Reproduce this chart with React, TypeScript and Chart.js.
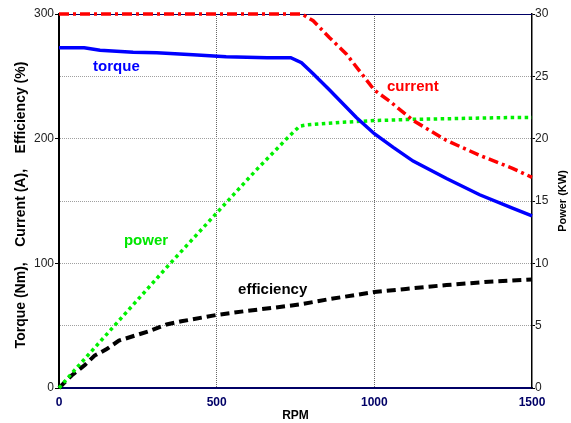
import React, { useEffect, useRef } from "react";
import { Chart, registerables } from "chart.js";

Chart.register(...registerables);

// ---- data ----
const torqueRpm = [0, 80, 130, 235, 310, 425, 530, 660, 735, 769, 806, 858, 943, 1000, 1060, 1123, 1229, 1334, 1440, 1500];
const torqueNm = [273, 273, 271, 269.3, 269, 267.4, 265.8, 265, 265, 261, 252, 239, 217, 204, 193, 182, 168, 155, 144, 138];

const currentRpm = [0, 770, 806, 858, 911, 1000, 1049, 1123, 1229, 1334, 1440, 1500];
const currentA = [300, 300, 294.6, 281, 268, 239, 230, 214.6, 198.6, 186.6, 176, 169];

const powerRpm = [0, 50, 353, 626, 726, 763, 785, 890, 1000, 1123, 1229, 1334, 1440, 1500];
const powerKW = [0, 1.45, 10, 17.5, 20.1, 21.0, 21.1, 21.3, 21.45, 21.55, 21.6, 21.65, 21.7, 21.7];

const effRpm = [0, 40, 82, 113, 150, 190, 282, 341, 388, 500, 600, 700, 763, 850, 1000, 1100, 1229, 1350, 1500];
const effPct = [0, 10, 18.5, 26, 31, 38, 45.3, 51, 53.5, 58.6, 62, 65, 67, 71, 77, 79.5, 82.6, 85, 87];

const xTicks = [0, 500, 1000, 1500];
const leftLabelTicks = [0, 100, 200, 300];
const rightTicks = [0, 5, 10, 15, 20, 25, 30];

const labelTexts = ["torque", "current", "power", "efficiency"];
const labelRpm = [108, 1040, 206, 568];
const labelValue = [257.8, 241.3, 117.8, 78.6];
const labelColors = ["#0000ff", "#ff0000", "#00e600", "#000000"];

const leftTitle = "Torque (Nm),    Current (A),    Efficiency (%)";
const rightTitle = "Power (KW)";

const FONT = '"Liberation Sans", Arial, Helvetica, sans-serif';

const toPoints = (xs: number[], ys: number[]) => xs.map((x, i) => ({ x, y: ys[i] }));

const decorPlugin = {
  id: "decor",
  beforeDatasetsDraw(chart: any) {
    const { ctx, chartArea } = chart;
    ctx.save();
    ctx.strokeStyle = "#000066";
    ctx.lineWidth = 1;
    ctx.beginPath();
    ctx.moveTo(chartArea.left, chartArea.top + 0.5);
    ctx.lineTo(chartArea.right, chartArea.top + 0.5);
    ctx.stroke();
    ctx.restore();
  },
  afterDatasetsDraw(chart: any) {
    const { ctx } = chart;
    const xs = chart.scales.x;
    const ys = chart.scales.y;
    ctx.save();
    ctx.font = `bold 15px ${FONT}`;
    ctx.textBaseline = "middle";
    ctx.textAlign = "left";
    labelTexts.forEach((t, i) => {
      ctx.fillStyle = labelColors[i];
      ctx.fillText(t, xs.getPixelForValue(labelRpm[i]), ys.getPixelForValue(labelValue[i]));
    });
    ctx.restore();
  },
  afterDraw(chart: any) {
    const { ctx, chartArea } = chart;
    const midY = (chartArea.top + chartArea.bottom) / 2;
    ctx.save();
    ctx.fillStyle = "#000";
    ctx.textAlign = "center";
    ctx.textBaseline = "middle";
    // left title
    ctx.save();
    ctx.font = `bold 14px ${FONT}`;
    ctx.translate(21, midY + 4);
    ctx.rotate(-Math.PI / 2);
    ctx.fillText(leftTitle, 0, 0);
    ctx.restore();
    // right title
    ctx.save();
    ctx.font = `bold 11px ${FONT}`;
    ctx.translate(chart.width - 8, midY);
    ctx.rotate(-Math.PI / 2);
    ctx.fillText(rightTitle, 0, 0);
    ctx.restore();
    ctx.restore();
  },
};

export default function App() {
  const ref = useRef<HTMLCanvasElement>(null);

  useEffect(() => {
    if (!ref.current) return;
    Chart.defaults.font.family = FONT;
    const transparent = "rgba(0,0,0,0)";
    const chart = new Chart(ref.current, {
      type: "line",
      data: {
        datasets: [
          {
            label: "current",
            data: toPoints(currentRpm, currentA),
            borderColor: "#ff0000",
            borderWidth: 3.5,
            borderDash: [10, 4, 3, 4],
            pointRadius: 0,
            yAxisID: "y",
            clip: false as any,
          },
          {
            label: "torque",
            data: toPoints(torqueRpm, torqueNm),
            borderColor: "#0000ff",
            borderWidth: 3.5,
            pointRadius: 0,
            yAxisID: "y",
            clip: false as any,
          },
          {
            label: "power",
            data: toPoints(powerRpm, powerKW),
            borderColor: "#00f000",
            borderWidth: 3.5,
            borderDash: [3.5, 3.5],
            pointRadius: 0,
            yAxisID: "y2",
            clip: false as any,
          },
          {
            label: "efficiency",
            data: toPoints(effRpm, effPct),
            borderColor: "#000000",
            borderWidth: 4,
            borderDash: [9, 5],
            pointRadius: 0,
            yAxisID: "y",
            clip: false as any,
          },
        ],
      },
      options: {
        animation: false,
        responsive: false,
        maintainAspectRatio: false,
        layout: { padding: { top: 14, left: 0, right: 0, bottom: 0 } },
        plugins: {
          legend: { display: false },
          tooltip: { enabled: false },
        },
        scales: {
          x: {
            type: "linear",
            position: "bottom",
            min: 0,
            max: 1500,
            afterBuildTicks: (s: any) => {
              s.ticks = xTicks.map((v) => ({ value: v }));
            },
            afterFit: (s: any) => {
              s.height = 35;
            },
            ticks: {
              color: "#000066",
              font: { size: 12, weight: "bold" },
              padding: 7,
              maxRotation: 0,
              autoSkip: false,
              callback: (v: any) => String(v),
            },
            grid: {
              color: (c: any) =>
                c.tick && (c.tick.value === 0 || c.tick.value === 1500) ? transparent : "#666",
              lineWidth: 1,
              drawTicks: false,
            },
            border: { color: "#000066", width: 2, dash: [1, 1] },
            title: {
              display: true,
              text: "RPM",
              color: "#000",
              font: { size: 12, weight: "bold" },
              padding: { top: 0, bottom: 0 },
            },
          },
          y: {
            type: "linear",
            position: "left",
            min: 0,
            max: 300,
            ticks: {
              stepSize: 50,
              color: "#222",
              font: { size: 12 },
              padding: 1,
              autoSkip: false,
              callback: (v: any) => (leftLabelTicks.includes(Number(v)) ? String(v) : ""),
            },
            afterFit: (s: any) => {
              s.width = 59;
            },
            grid: {
              color: (c: any) =>
                c.tick && (c.tick.value === 0 || c.tick.value === 300) ? transparent : "#a0a0a0",
              lineWidth: 1,
              tickLength: 4,
              tickColor: (c: any) =>
                c.tick && leftLabelTicks.includes(c.tick.value) ? "#000" : transparent,
            },
            border: { color: "#000", width: 2, dash: [1, 1] },
            title: { display: false },
          },
          y2: {
            type: "linear",
            position: "right",
            min: 0,
            max: 30,
            afterBuildTicks: (s: any) => {
              s.ticks = rightTicks.map((v) => ({ value: v }));
            },
            ticks: {
              color: "#222",
              font: { size: 12 },
              padding: 0,
              autoSkip: false,
              callback: (v: any) => String(v),
            },
            afterFit: (s: any) => {
              s.width = 39;
            },
            grid: {
              drawOnChartArea: false,
              tickLength: 3,
              tickColor: "#000",
            },
            border: { color: "#000", width: 1.5 },
            title: { display: false },
          },
        },
      } as any,
      plugins: [decorPlugin],
    });
    return () => chart.destroy();
  }, []);

  return (
    <div style={{ position: "fixed", left: 0, top: 0, width: 571, height: 423, background: "#fff" }}>
      <canvas ref={ref} width={571} height={423} style={{ display: "block", width: 571, height: 423 }} />
    </div>
  );
}
